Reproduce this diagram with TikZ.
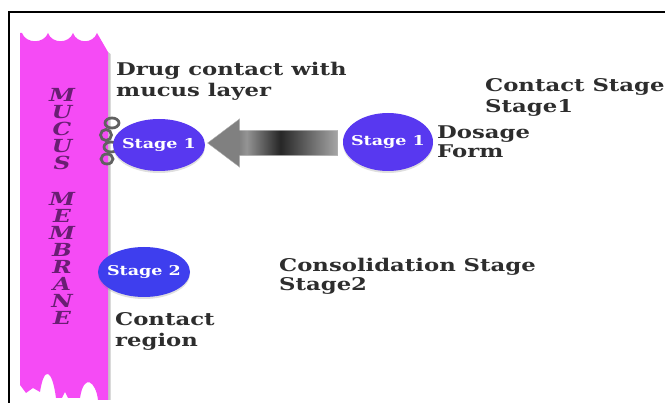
\documentclass[tikz,border=0pt]{standalone}
\usepackage{fontspec}
\setmainfont{DejaVu Serif}[FakeStretch=1.3]
\usetikzlibrary{shapes.geometric,shapes.arrows,shadows}
\definecolor{mucus}{RGB}{245,75,245}
\definecolor{membtext}{RGB}{105,30,115}
\definecolor{stageone}{RGB}{88,56,240}
\definecolor{stagetwo}{RGB}{62,62,238}
\definecolor{labelgray}{RGB}{45,45,45}
\colorlet{pushhead}{black!50}
\colorlet{pushlight}{black!42}
\colorlet{pushdark}{black!85}
\colorlet{pushtail}{black!35}
\pgfdeclarehorizontalshading{pushshade}{100bp}{color(0bp)=(pushhead); color(37bp)=(pushhead);
  color(40bp)=(pushlight); color(53bp)=(pushdark); color(75bp)=(pushtail); color(100bp)=(pushtail)}
\begin{document}
\begin{tikzpicture}
[x=1pt,y=-1pt,
 caption/.style={font=\bfseries\fontsize{17.5}{20}\selectfont, text=labelgray, anchor=base west, inner sep=0pt},
 stage/.style={ellipse, inner xsep=-8pt, inner ysep=0pt, text=white, font=\bfseries\fontsize{13.5}{15}\selectfont,
   drop shadow={shadow xshift=0pt, shadow yshift=-2pt, opacity=0.25}},
 ring/.style={draw=black!62, line width=2.8pt},
 letter/.style={font=\bfseries\itshape\fontsize{18}{20}\selectfont, text=membtext, inner sep=0pt}]
\useasboundingbox (0,0) rectangle (665,403);
\draw [line width=2pt] (9,403) -- (9,12) -- (665,12);
% mucus membrane strip
\fill [gray!45] (108,52) -- (110.5,54) -- (110.5,400) -- (108,400) -- cycle;
\fill [mucus] (20,33) -- (22,33) .. controls (26,44) and (44,44) .. (48,33)
  .. controls (52,44) and (69,44) .. (73,33) .. controls (77,44) and (93,44) .. (97,33)
  -- (108,52) -- (108,400) -- (98,400) .. controls (96,382) and (84,372) .. (80,398)
  -- (68,398) -- (65,392) -- (62,398) -- (56,398) .. controls (52,368) and (44,366) .. (40,392)
  -- (33,388) -- (26,393) -- (20,385) -- cycle;
\foreach \ch [count=\i] in {M,U,C,U,S}
  \node [letter] (mu\i) at (62,95+17*\i-17) {\ch};
\foreach \ch [count=\i] in {M,E,M,B,R,A,N,E}
  \node [letter] (mb\i) at (62,199+17*\i-17) {\ch};
% chain links
\draw [ring] (112,123) ellipse (7 and 5);
\draw [ring] (106,135) ellipse (5.5 and 5.5);
\draw [ring] (111,147) ellipse (7 and 5);
\draw [ring] (107,159) ellipse (6 and 5);
% stages
\node [stage, fill=stageone, minimum width=92pt, minimum height=52pt] (contact) at (159,145) {Stage 1};
\node [stage, fill=stageone, minimum width=90pt, minimum height=58pt] (dosage) at (388,142) {Stage 1};
\node [stage, fill=stagetwo, minimum width=92pt, minimum height=50pt] (consol) at (144,272) {Stage 2};
\node [single arrow, shape border rotate=180, minimum height=130pt, text height=12.5pt, text depth=12.5pt,
  single arrow head extend=11.5pt, single arrow tip angle=74, inner sep=0pt, draw=black!30,
  shading=pushshade] (push) at (281,143) {};
% captions
\node [caption] (drugA) at (116,76) {Drug contact with};
\node [caption] (drugB) at (116,97) {mucus layer};
\node [caption] (cstageA) at (485,92) {Contact Stage};
\node [caption] (cstageB) at (485,113) {Stage1};
\node [caption] (formA) at (437,139) {Dosage};
\node [caption] (formB) at (437,158) {Form};
\node [caption] (consA) at (279,272) {Consolidation Stage};
\node [caption] (consB) at (279,291) {Stage2};
\node [caption] (regA) at (115,326) {Contact};
\node [caption] (regB) at (115,347) {region};
\end{tikzpicture}
\end{document}
